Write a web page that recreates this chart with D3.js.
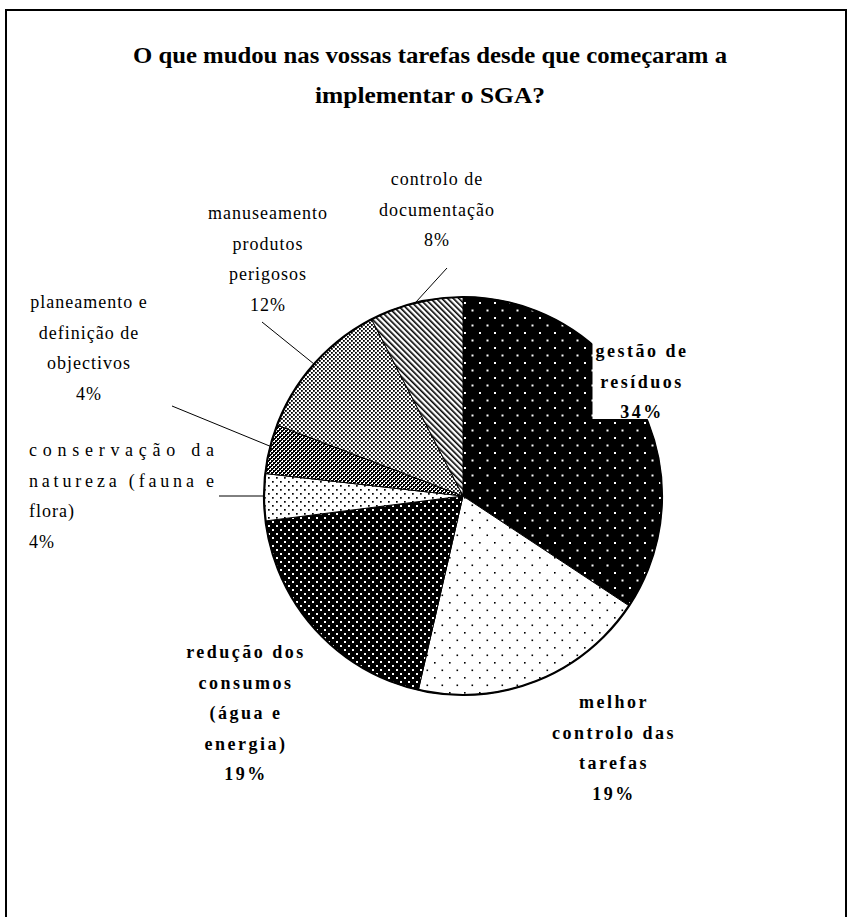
<!DOCTYPE html>
<html>
<head>
<meta charset="utf-8">
<script src="https://cdn.jsdelivr.net/npm/d3@7"></script>
<style>
  html, body { margin: 0; padding: 0; background: #fff; }
  svg { display: block; }
  text { font-family: "Liberation Serif", "Times New Roman", serif; fill: #000; }
</style>
</head>
<body>
<svg id="chart" width="849" height="917"></svg>
<script>
// ---- data ----
const categories = [
  "gestão de resíduos",
  "melhor controlo das tarefas",
  "redução dos consumos (água e energia)",
  "conservação da natureza (fauna e flora)",
  "planeamento e definição de objectivos",
  "manuseamento produtos perigosos",
  "controlo de documentação"
];
const values = [34.3, 19.3, 19.4, 3.8, 4.0, 11.6, 7.6];
const labelLines = [
  ["gestão de", "resíduos"],
  ["melhor", "controlo das", "tarefas"],
  ["redução dos", "consumos", "(água e", "energia)"],
  ["conservação da", "natureza (fauna e", "flora)"],
  ["planeamento e", "definição de", "objectivos"],
  ["manuseamento", "produtos", "perigosos"],
  ["controlo de", "documentação"]
];
const boldLabel = [true, true, true, false, false, false, false];
const patternIds = ["pGestao", "pMelhor", "pReducao", "pConserv", "pPlanea", "pManus", "pControlo"];
const titleLines = ["O que mudou nas vossas tarefas desde que começaram a", "implementar o SGA?"];

// ---- layout ----
const cx = 463, cy = 496, R = 199;
const lineH = 30.5;
// label anchor (x, first baseline y, anchor, justify width)
const labelPos = [
  [642, 357, "middle", 0],
  [614, 708, "middle", 0],
  [246, 658, "middle", 0],
  [29, 456, "start", 186],
  [89, 308, "middle", 0],
  [268, 219, "middle", 0],
  [437, 185, "middle", 0]
];
const titleWidths = [594, 230];
// leader lines (layout only)
const leaders = [
  null, null, null,
  [[219, 496], [265, 496]],
  [[172, 406], [272, 447]],
  [[262, 322], [314, 364]],
  [[447, 268], [416, 302]]
];

const svg = d3.select("#chart");
const defs = svg.append("defs");

function pat(id, size, bg, build) {
  const p = defs.append("pattern").attr("id", id)
    .attr("patternUnits", "userSpaceOnUse").attr("width", size).attr("height", size);
  p.append("rect").attr("width", size).attr("height", size).attr("fill", bg);
  build(p);
  return p;
}
pat("pGestao", 15, "#000", p => {
  p.append("rect").attr("x", 1).attr("y", 1).attr("width", 2).attr("height", 2).attr("fill", "#fff");
  p.append("rect").attr("x", 8.5).attr("y", 8.5).attr("width", 2).attr("height", 2).attr("fill", "#fff");
});
pat("pMelhor", 15, "#fff", p => {
  p.append("rect").attr("x", 1).attr("y", 1).attr("width", 1.6).attr("height", 1.6).attr("fill", "#000");
  p.append("rect").attr("x", 8.5).attr("y", 8.5).attr("width", 1.6).attr("height", 1.6).attr("fill", "#000");
});
pat("pReducao", 8, "#000", p => {
  p.append("rect").attr("x", 1).attr("y", 1).attr("width", 2).attr("height", 2).attr("fill", "#fff");
  p.append("rect").attr("x", 5).attr("y", 5).attr("width", 2).attr("height", 2).attr("fill", "#fff");
});
pat("pConserv", 8, "#fff", p => {
  p.append("rect").attr("x", 1).attr("y", 1).attr("width", 1.7).attr("height", 1.7).attr("fill", "#000");
  p.append("rect").attr("x", 5).attr("y", 5).attr("width", 1.7).attr("height", 1.7).attr("fill", "#000");
});
pat("pPlanea", 4, "#fff", p => {
  p.append("rect").attr("x", 0).attr("y", 0).attr("width", 2).attr("height", 2).attr("fill", "#000");
  p.append("rect").attr("x", 2).attr("y", 2).attr("width", 2).attr("height", 2).attr("fill", "#000");
  p.append("rect").attr("x", 2).attr("y", 0).attr("width", 1).attr("height", 1).attr("fill", "#000");
  p.append("rect").attr("x", 0).attr("y", 2).attr("width", 1).attr("height", 1).attr("fill", "#000");
});
pat("pManus", 4, "#fff", p => {
  p.append("rect").attr("x", 0).attr("y", 0).attr("width", 1.8).attr("height", 1.8).attr("fill", "#000");
  p.append("rect").attr("x", 2).attr("y", 2).attr("width", 1.8).attr("height", 1.8).attr("fill", "#000");
});
const stripes = defs.append("pattern").attr("id", "pControlo")
  .attr("patternUnits", "userSpaceOnUse").attr("width", 4).attr("height", 4)
  .attr("patternTransform", "rotate(-45)");
stripes.append("rect").attr("width", 4).attr("height", 4).attr("fill", "#fff");
stripes.append("rect").attr("x", 0).attr("y", 0).attr("width", 1.6).attr("height", 4).attr("fill", "#000");

// frame
svg.append("rect").attr("x", 6).attr("y", 10).attr("width", 840).attr("height", 920)
  .attr("fill", "none").attr("stroke", "#000").attr("stroke-width", 2);

// title
const title = svg.append("text").attr("text-anchor", "middle")
  .attr("font-family", "Liberation Serif, serif")
  .style("font-size", "24px").style("font-weight", "bold");
titleLines.forEach((t, i) => {
  title.append("tspan").attr("x", 430).attr("y", 63 + i * 40)
    .attr("textLength", titleWidths[i]).attr("lengthAdjust", "spacingAndGlyphs").text(t);
});

// pie
const pie = d3.pie().sort(null).value(d => d)(values);
const arc = d3.arc().innerRadius(0).outerRadius(R);
const g = svg.append("g").attr("transform", `translate(${cx},${cy})`);
g.selectAll("path.slice").data(pie).join("path")
  .attr("class", "slice")
  .attr("d", arc)
  .attr("fill", (d, i) => `url(#${patternIds[i]})`)
  .attr("stroke", "#000").attr("stroke-width", 1);
g.append("circle").attr("r", R).attr("fill", "none").attr("stroke", "#000").attr("stroke-width", 2.2);

// labels
const fmt = v => Math.round(v) + "%";
labelLines.forEach((lines, i) => {
  const [x, y, anchor, justify] = labelPos[i];
  const grp = svg.append("g");
  const bg = grp.append("rect").attr("fill", "#fff");
  const t = grp.append("text").attr("text-anchor", anchor)
    .attr("font-family", "Liberation Serif, serif")
    .style("font-size", "18px")
    .style("font-weight", boldLabel[i] ? "bold" : "normal")
    .style("letter-spacing", boldLabel[i] ? "2.5px" : "1px");
  lines.concat([fmt(values[i])]).forEach((s, k) => {
    const ts = t.append("tspan").attr("x", x).attr("y", y + k * lineH).text(s);
    if (justify && k < lines.length - 1) {
      ts.attr("textLength", justify).attr("lengthAdjust", "spacing");
    }
  });
  if (i === 0) {
    const b = t.node().getBBox();
    bg.attr("x", b.x - 3).attr("y", b.y - 1).attr("width", b.width + 6).attr("height", b.height - 2);
  }
});

// leaders
leaders.forEach(l => {
  if (!l) return;
  svg.append("polyline").attr("points", l.map(p => p.join(",")).join(" "))
    .attr("fill", "none").attr("stroke", "#000").attr("stroke-width", 1);
});
</script>
</body>
</html>
